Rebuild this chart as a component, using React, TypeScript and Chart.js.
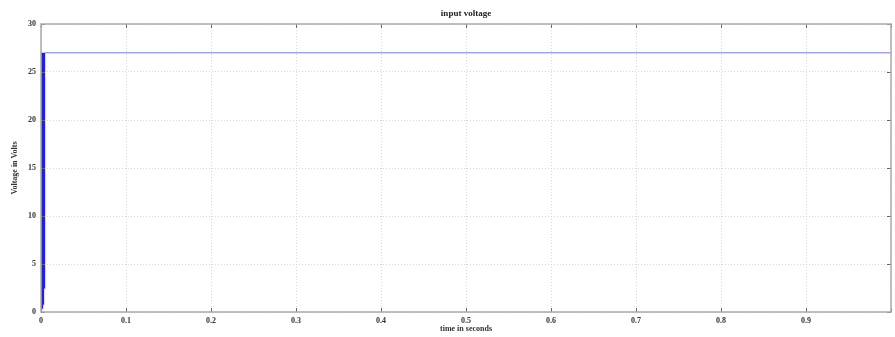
import React, { useEffect, useRef } from "react";
import { Chart, registerables } from "chart.js";

Chart.register(...registerables);

// Start-up transient: rapid switching of the input voltage (seconds, volts)
const startupTimes = [
  0, 0.0002, 0.0004, 0.0006, 0.0008, 0.001, 0.0012, 0.0014, 0.0016, 0.0018,
  0.002, 0.0022, 0.0024, 0.0026, 0.0028, 0.003, 0.0032, 0.0034, 0.0036, 0.0038,
  0.004, 0.0042, 0.0044, 0.0046,
];
const startupVolts = [
  0, 26.5, 0.3, 25, 0.5, 27, 0.4, 22, 0.8, 27, 0.6, 24, 1.0, 27, 0.9, 26, 1.5, 27,
  2.5, 27, 4, 27, 12, 27,
];
// Steady state after start-up
const steadyTimes = [0.0046, 1.0];
const steadyVolts = [27, 27];

const xTickLabels = ["0", "0.1", "0.2", "0.3", "0.4", "0.5", "0.6", "0.7", "0.8", "0.9", ""];
const yTickLabels = ["0", "5", "10", "15", "20", "25", "30"];

const titleText = "input voltage";
const xTitle = "time in seconds";
const yTitle = "Voltage in Volts";

const serif = "'Liberation Serif', 'DejaVu Serif', serif";

const framePlugin = {
  id: "matlabFrame",
  afterDraw(chart: any) {
    const { ctx, chartArea, scales } = chart;
    const { left, right, top, bottom } = chartArea;
    ctx.save();
    // inward tick marks
    ctx.strokeStyle = "#666666";
    ctx.lineWidth = 1;
    const tl = 4;
    scales.x.ticks.forEach((t: any) => {
      const px = Math.round(scales.x.getPixelForValue(t.value)) + 0.5;
      ctx.beginPath();
      ctx.moveTo(px, bottom);
      ctx.lineTo(px, bottom - tl);
      ctx.moveTo(px, top);
      ctx.lineTo(px, top + tl);
      ctx.stroke();
    });
    scales.y.ticks.forEach((t: any) => {
      const py = Math.round(scales.y.getPixelForValue(t.value)) + 0.5;
      ctx.beginPath();
      ctx.moveTo(left, py);
      ctx.lineTo(left + tl, py);
      ctx.moveTo(right, py);
      ctx.lineTo(right - tl, py);
      ctx.stroke();
    });
    // box
    ctx.strokeStyle = "#aaaaaa";
    ctx.lineWidth = 1.5;
    ctx.strokeRect(left, top, right - left, bottom - top);
    // title
    ctx.fillStyle = "#222222";
    ctx.font = `bold 9px ${serif}`;
    ctx.textAlign = "center";
    ctx.textBaseline = "middle";
    ctx.fillText(titleText, (left + right) / 2, 14);
    ctx.restore();
  },
};

export default function App() {
  const ref = useRef<HTMLCanvasElement | null>(null);

  useEffect(() => {
    if (!ref.current) return;
    const startup = startupTimes.map((t, i) => ({ x: t, y: startupVolts[i] }));
    const steady = steadyTimes.map((t, i) => ({ x: t, y: steadyVolts[i] }));
    const chart = new Chart(ref.current, {
      type: "line",
      data: {
        datasets: [
          {
            label: "steady",
            data: steady,
            borderColor: "#7a7aee",
            borderWidth: 1,
            pointRadius: 0,
            tension: 0,
          },
          {
            label: "startup",
            data: startup,
            borderColor: "#2020e0",
            borderWidth: 1.2,
            pointRadius: 0,
            tension: 0,
          },
        ],
      },
      options: {
        responsive: false,
        animation: false,
        events: [],
        layout: { padding: { top: 24, right: 2, left: 0, bottom: 0 } },
        plugins: {
          legend: { display: false },
          title: { display: false },
          tooltip: { enabled: false },
        },
        scales: {
          x: {
            type: "linear",
            min: 0,
            max: 1,
            afterFit: (s: any) => {
              s.height = 25;
            },
            afterBuildTicks: (s: any) => {
              s.ticks = xTickLabels.map((_, i) => ({ value: i / 10 }));
            },
            ticks: {
              callback: (_v: any, i: number) => xTickLabels[i],
              font: { family: serif, size: 8, weight: "bold" },
              color: "#333333",
              padding: 4,
              maxRotation: 0,
              autoSkip: false,
            },
            grid: {
              color: "#d6d6d6",
              lineWidth: 1,
              drawTicks: false,
            },
            border: { display: false, dash: [1, 2] },
            title: {
              display: true,
              text: xTitle,
              font: { family: serif, size: 8, weight: "bold" },
              color: "#333333",
              padding: { top: 0, bottom: 3 },
            },
          },
          y: {
            type: "linear",
            min: 0,
            max: 30,
            afterFit: (s: any) => {
              s.width = 41;
            },
            afterBuildTicks: (s: any) => {
              s.ticks = yTickLabels.map((l) => ({ value: Number(l) }));
            },
            ticks: {
              callback: (_v: any, i: number) => yTickLabels[i],
              font: { family: serif, size: 8, weight: "bold" },
              color: "#333333",
              padding: 5,
              autoSkip: false,
            },
            grid: {
              color: "#d6d6d6",
              lineWidth: 1,
              drawTicks: false,
            },
            border: { display: false, dash: [1, 2] },
            title: {
              display: true,
              text: yTitle,
              font: { family: serif, size: 8, weight: "bold" },
              color: "#333333",
              padding: { top: 10, bottom: 0 },
            },
          },
        },
      },
      plugins: [framePlugin],
    });
    return () => chart.destroy();
  }, []);

  return (
    <div style={{ position: "fixed", left: 0, top: 0, width: 895, height: 337, background: "#ffffff" }}>
      <canvas ref={ref} width={895} height={337} />
    </div>
  );
}
